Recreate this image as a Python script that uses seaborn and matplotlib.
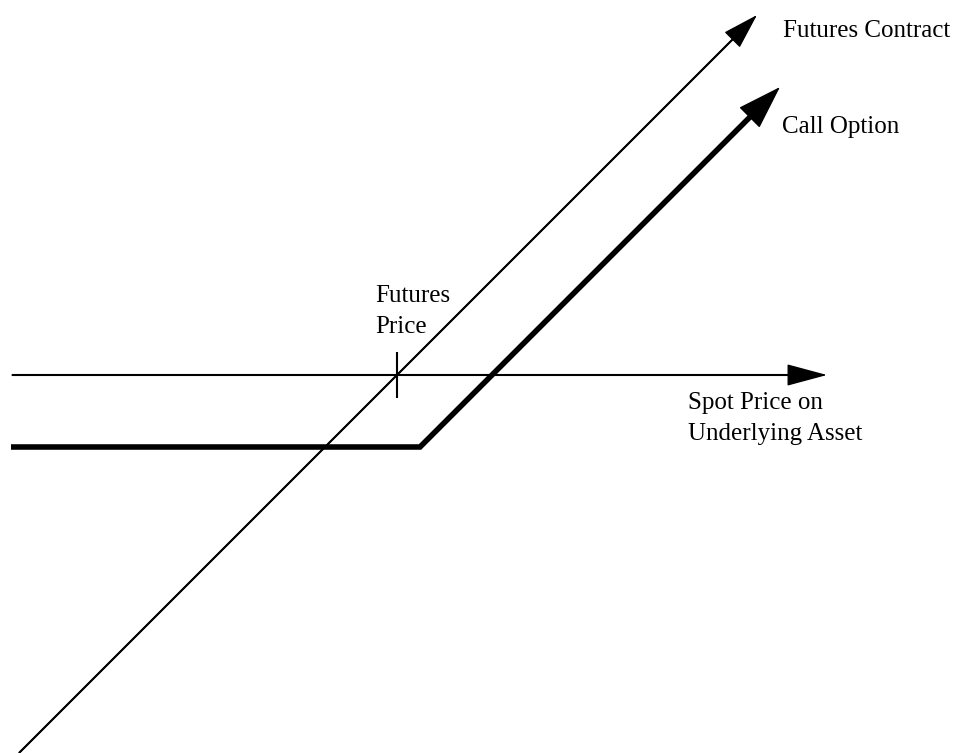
import matplotlib
matplotlib.use("Agg")
import matplotlib.pyplot as plt
import numpy as np
import seaborn as sns

# payoff diagram in pixel-like units: x = spot price, y = profit (0 on the spot axis)
spot_axis_x = [12, 827]
spot_axis_y = [0, 0]

futures_x = [19, 757]
futures_y = [-378, 360]

call_x = [11, 420, 780]
call_y = [-72, -72, 288]

tick_x = [397, 397]
tick_y = [-23, 23]

labels = {
    "Futures Contract": (783, 338),
    "Call Option": (782, 242),
    "Futures\nPrice": (375, 42),
    "Spot Price on\nUnderlying Asset": (688, -65),
}

sns.set_theme(style="white")
plt.rcParams["font.family"] = ["Liberation Serif", "DejaVu Serif"]

fig = plt.figure(figsize=(9.63, 7.53), dpi=100)
ax = fig.add_axes([0, 0, 1, 1])

thin = 1.5
thick = 4.0


def trimmed(xs, ys, cut):
    # pull the last point back a little so the line ends inside the arrow head
    xs = np.array(xs, dtype=float)
    ys = np.array(ys, dtype=float)
    d = np.hypot(xs[-1] - xs[-2], ys[-1] - ys[-2])
    xs[-1] -= (xs[-1] - xs[-2]) * cut / d
    ys[-1] -= (ys[-1] - ys[-2]) * cut / d
    return xs, ys


def arrow_line(xs, ys, lw, hl, hw):
    tx, ty = trimmed(xs, ys, 18)
    sns.lineplot(x=tx, y=ty, ax=ax, color="black", linewidth=lw, estimator=None,
                 sort=False, solid_capstyle="butt", solid_joinstyle="miter")
    ax.annotate("", xy=(xs[-1], ys[-1]), xytext=(xs[-2], ys[-2]),
                arrowprops=dict(arrowstyle=f"-|>,head_length={hl},head_width={hw}",
                                color="black", lw=1, shrinkA=0, shrinkB=0,
                                mutation_scale=1))


arrow_line(spot_axis_x, spot_axis_y, thin, 26, 7)
arrow_line(futures_x, futures_y, thin, 23, 7)
arrow_line(call_x, call_y, thick, 29, 9.5)

sns.lineplot(x=tick_x, y=tick_y, ax=ax, color="black", linewidth=thin,
             estimator=None, sort=False, solid_capstyle="butt")

for txt, (tx, ty) in labels.items():
    ax.text(tx, ty, txt, fontsize=18, color="black", ha="left", va="baseline",
            linespacing=1.5)

ax.set_xlim(0, 963)
ax.set_ylim(-378, 375)
ax.set_axis_off()

fig.savefig("out.png", dpi=100, facecolor="white")
